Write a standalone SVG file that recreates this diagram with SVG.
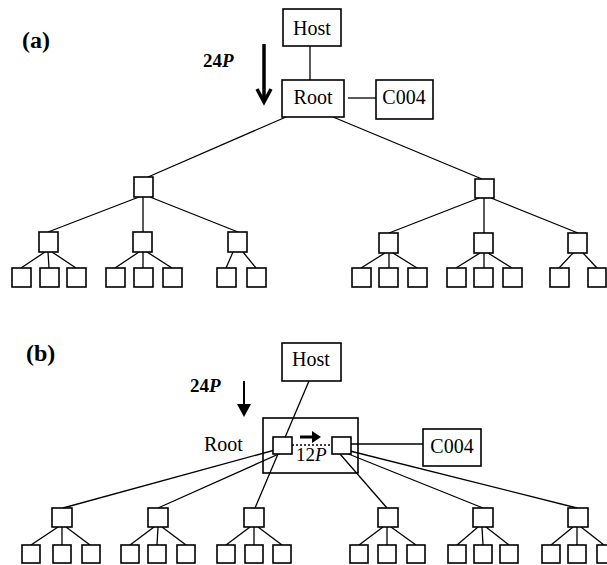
<svg xmlns="http://www.w3.org/2000/svg" width="607" height="565" viewBox="0 0 607 565">
<style>
rect{fill:#fff;stroke:#000;stroke-width:1.6}
.c line{stroke:#000;stroke-width:1.3}
text{font-family:"Liberation Serif","Times New Roman",serif;fill:#000;font-size:20px}
.lbl{font-weight:bold;font-size:24px}
.q{font-size:19px;font-weight:bold}
.mid{text-anchor:middle}
.ar{stroke:#000;fill:none}
</style>
<rect x="0" y="0" width="607" height="565" style="stroke:none"/>
<text class="lbl" x="22" y="48">(a)</text>
<text class="lbl" x="26" y="361">(b)</text>
<text class="q" x="203" y="67">24<tspan font-style="italic">P</tspan></text>
<text class="q" x="190" y="392">24<tspan font-style="italic">P</tspan></text>
<g id="arrow-a">
<line class="ar" x1="264" y1="44" x2="264" y2="101" stroke-width="3.5"/>
<polyline class="ar" points="257,89 264,102 271,89" stroke-width="3.5"/>
</g>
<g id="arrow-b">
<line class="ar" x1="244" y1="381" x2="244" y2="406" stroke-width="2"/>
<polygon points="237,404 251,404 244,417" fill="#000"/>
</g>
<g class="c" id="connectors">
<line x1="310" y1="46" x2="310" y2="80"/>
<line x1="348" y1="98" x2="376" y2="98"/>
<line x1="286" y1="117" x2="148" y2="177"/>
<line x1="333" y1="117" x2="482" y2="179"/>
<line x1="139" y1="197" x2="48" y2="232"/>
<line x1="143" y1="197" x2="143" y2="232"/>
<line x1="150" y1="197" x2="238" y2="232"/>
<line x1="479" y1="198" x2="389" y2="233"/>
<line x1="484" y1="198" x2="484" y2="233"/>
<line x1="491" y1="198" x2="578" y2="233"/>
<line x1="45" y1="252" x2="21" y2="268"/><line x1="48" y1="252" x2="49" y2="268"/><line x1="52" y1="252" x2="76" y2="268"/>
<line x1="139" y1="252" x2="115" y2="268"/><line x1="143" y1="252" x2="143" y2="268"/><line x1="147" y1="252" x2="172" y2="268"/>
<line x1="233" y1="252" x2="226" y2="268"/><line x1="243" y1="252" x2="256" y2="268"/>
<line x1="385" y1="253" x2="361" y2="268"/><line x1="389" y1="253" x2="389" y2="268"/><line x1="393" y1="253" x2="417" y2="268"/>
<line x1="480" y1="253" x2="456" y2="268"/><line x1="484" y1="253" x2="484" y2="268"/><line x1="488" y1="253" x2="512" y2="268"/>
<line x1="573" y1="253" x2="559" y2="268"/><line x1="583" y1="253" x2="597" y2="268"/>
<line x1="309" y1="381" x2="255" y2="508"/>
<line x1="275" y1="450" x2="63" y2="508"/>
<line x1="281" y1="453" x2="158" y2="508"/>
<line x1="340" y1="454" x2="387" y2="508"/>
<line x1="346" y1="453" x2="483" y2="508"/>
<line x1="350" y1="451" x2="577" y2="508"/>
<line x1="351" y1="444" x2="423" y2="444"/>
<line x1="292" y1="445" x2="332" y2="445" style="stroke-dasharray:2,2"/>
<line x1="58" y1="527" x2="31" y2="545"/><line x1="62" y1="527" x2="62" y2="545"/><line x1="66" y1="527" x2="90" y2="545"/>
<line x1="154" y1="527" x2="130" y2="545"/><line x1="158" y1="527" x2="157" y2="545"/><line x1="162" y1="527" x2="186" y2="545"/>
<line x1="250" y1="527" x2="226" y2="545"/><line x1="254" y1="527" x2="254" y2="545"/><line x1="258" y1="527" x2="282" y2="545"/>
<line x1="383" y1="527" x2="359" y2="545"/><line x1="387" y1="527" x2="387" y2="545"/><line x1="391" y1="527" x2="416" y2="545"/>
<line x1="478" y1="527" x2="457" y2="545"/><line x1="482" y1="527" x2="483" y2="545"/><line x1="486" y1="527" x2="509" y2="545"/>
<line x1="573" y1="527" x2="551" y2="545"/><line x1="577" y1="527" x2="577" y2="545"/><line x1="581" y1="527" x2="604" y2="545"/>
</g>
<g id="arrow-12p">
<line class="ar" x1="300" y1="437" x2="313" y2="437" stroke-width="3"/>
<polygon points="312,431 321,437 312,443" fill="#000"/>
<text x="296" y="461" style="font-size:19px">12<tspan font-style="italic">P</tspan></text>
</g>
<g id="a-host"><rect x="283" y="9" width="58" height="37"/><text class="mid" x="312" y="35">Host</text></g>
<g id="a-root"><rect x="282" y="80" width="62" height="37"/><text class="mid" x="313" y="104">Root</text></g>
<g id="a-c004"><rect x="376" y="80" width="57" height="39"/><text class="mid" x="404" y="104">C004</text></g>
<g id="a-n1"><rect x="134" y="177" width="19" height="20"/></g>
<g id="a-n2"><rect x="475" y="179" width="19" height="19"/></g>
<g id="a-n3"><rect x="39" y="232" width="19" height="20"/></g>
<g id="a-n4"><rect x="133" y="232" width="19" height="20"/></g>
<g id="a-n5"><rect x="228" y="232" width="19" height="20"/></g>
<g id="a-n6"><rect x="379" y="233" width="19" height="20"/></g>
<g id="a-n7"><rect x="474" y="233" width="19" height="20"/></g>
<g id="a-n8"><rect x="568" y="233" width="19" height="20"/></g>
<g id="a-leaves">
<rect x="12" y="268" width="19" height="19"/><rect x="40" y="268" width="19" height="19"/><rect x="67" y="268" width="19" height="19"/>
<rect x="106" y="268" width="19" height="19"/><rect x="134" y="268" width="19" height="19"/><rect x="163" y="268" width="19" height="19"/>
<rect x="217" y="268" width="19" height="19"/><rect x="247" y="268" width="19" height="19"/>
<rect x="352" y="268" width="19" height="19"/><rect x="379" y="268" width="19" height="19"/><rect x="408" y="268" width="19" height="19"/>
<rect x="447" y="268" width="19" height="19"/><rect x="474" y="268" width="19" height="19"/><rect x="503" y="268" width="19" height="19"/>
<rect x="550" y="268" width="19" height="19"/><rect x="588" y="268" width="18" height="19"/>
</g>
<g id="b-host"><rect x="282" y="343" width="59" height="38"/><text class="mid" x="311" y="366">Host</text></g>
<g id="b-root">
<rect x="263" y="418" width="95" height="55" style="fill:none"/>
<text x="204" y="451">Root</text>
<rect x="273" y="437" width="19" height="17"/>
<rect x="332" y="437" width="19" height="17"/>
</g>
<g id="b-c004"><rect x="423" y="429" width="58" height="37"/><text class="mid" x="452" y="453">C004</text></g>
<g id="b-n1"><rect x="52" y="508" width="20" height="19"/></g>
<g id="b-n2"><rect x="148" y="508" width="20" height="19"/></g>
<g id="b-n3"><rect x="244" y="508" width="20" height="19"/></g>
<g id="b-n4"><rect x="378" y="508" width="20" height="19"/></g>
<g id="b-n5"><rect x="473" y="508" width="20" height="19"/></g>
<g id="b-n6"><rect x="568" y="508" width="20" height="19"/></g>
<g id="b-leaves">
<rect x="22" y="545" width="18" height="18"/><rect x="53" y="545" width="18" height="18"/><rect x="82" y="545" width="18" height="18"/>
<rect x="121" y="545" width="18" height="18"/><rect x="148" y="545" width="18" height="18"/><rect x="177" y="545" width="18" height="18"/>
<rect x="217" y="545" width="18" height="18"/><rect x="245" y="545" width="18" height="18"/><rect x="273" y="545" width="18" height="18"/>
<rect x="350" y="545" width="18" height="18"/><rect x="378" y="545" width="18" height="18"/><rect x="407" y="545" width="18" height="18"/>
<rect x="448" y="545" width="18" height="18"/><rect x="474" y="545" width="18" height="18"/><rect x="500" y="545" width="18" height="18"/>
<rect x="542" y="545" width="18" height="18"/><rect x="568" y="545" width="18" height="18"/><rect x="597" y="545" width="18" height="18"/>
</g>
</svg>
